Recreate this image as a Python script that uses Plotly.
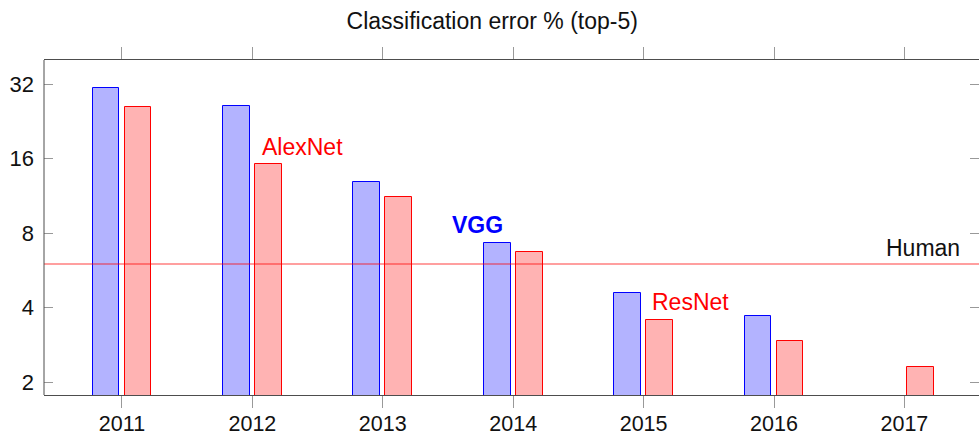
import math
import plotly.graph_objects as go

# ImageNet (ILSVRC) top-5 classification error by year
years = [2011, 2012, 2013, 2014, 2015, 2016, 2017]
runner_up = [31.0, 26.1, 12.9, 7.3, 4.6, 3.7, None]
winner = [25.8, 15.3, 11.2, 6.7, 3.57, 2.92, 2.3]
human_error = 6.0

y_tickvals = [2, 4, 8, 16, 32]
y_ticktext = ["2", "4", "8", "16", "32"]

# text labels: (text, year position, value position, colour, bold)
labels = [
    ("AlexNet", 2012.383, 17.8, "#ff0000", False),
    ("VGG", 2013.73, 8.62, "#0000ff", True),
    ("ResNet", 2015.36, 4.21, "#ff0000", False),
]

FONT = "Liberation Sans"
W, H = 979, 435
AXIS_COL = "#4d4d4d"
TICK_COL = "#999999"

fig = go.Figure()
fig.add_trace(go.Bar(
    x=years, y=runner_up, width=0.205, offset=-0.225,
    marker=dict(color="#b3b3ff", line=dict(color="#0000ff", width=1)),
    showlegend=False,
))
fig.add_trace(go.Bar(
    x=years, y=winner, width=0.205, offset=0.02,
    marker=dict(color="#ffb3b3", line=dict(color="#ff0000", width=1)),
    showlegend=False,
))

# human-level reference line
fig.add_shape(type="line", xref="paper", x0=0, x1=1, yref="y",
              y0=human_error, y1=human_error,
              line=dict(color="rgba(255,0,0,0.5)", width=1.6), layer="above")
fig.add_annotation(text="Human", x=2017.44, y=math.log10(7.0), xanchor="right",
                   yanchor="middle", showarrow=False,
                   font=dict(family=FONT, size=23, color="#111111"))

for txt, xv, yv, col, bold in labels:
    fig.add_annotation(text=f"<b>{txt}</b>" if bold else txt, x=xv,
                       y=math.log10(yv), xanchor="center", yanchor="middle",
                       showarrow=False,
                       font=dict(family=FONT, size=23, color=col))

# left frame edge (the right edge falls just outside the canvas)
fig.add_shape(type="line", xref="paper", yref="paper", x0=0, x1=0, y0=0, y1=1,
              line=dict(color=AXIS_COL, width=1), layer="above")

fig.update_layout(
    width=W, height=H,
    margin=dict(l=44, r=0, t=60, b=40, autoexpand=False),
    paper_bgcolor="white", plot_bgcolor="white",
    bargap=0, barmode="overlay",
    font=dict(family=FONT, size=22, color="#111111"),
    title=dict(text="Classification error % (top-5)", x=0.4794, xanchor="center",
               xref="paper", y=1 - 21 / H, yref="container", yanchor="middle",
               font=dict(family=FONT, size=23, color="#111111")),
)
fig.update_xaxes(
    range=[2010.402, 2017.572], tickmode="array", tickvals=years,
    ticktext=[str(y) for y in years],
    ticks="outside", ticklen=12, tickcolor=TICK_COL, tickwidth=1,
    showline=True, linecolor=AXIS_COL, linewidth=1, mirror="ticks",
    showgrid=False, zeroline=False, automargin=False, ticklabelstandoff=-3,
    tickfont=dict(family=FONT, size=21.5, color="#111111"),
)
fig.update_yaxes(
    type="log", range=[0.24847, 1.6036], tickmode="array",
    tickvals=y_tickvals, ticktext=y_ticktext,
    ticks="inside", ticklen=9, tickcolor=TICK_COL, tickwidth=1,
    showline=False, mirror="ticks", ticklabelstandoff=9,
    showgrid=False, zeroline=False, automargin=False,
    tickfont=dict(family=FONT, size=22, color="#111111"),
)

fig.write_html("out.html")
